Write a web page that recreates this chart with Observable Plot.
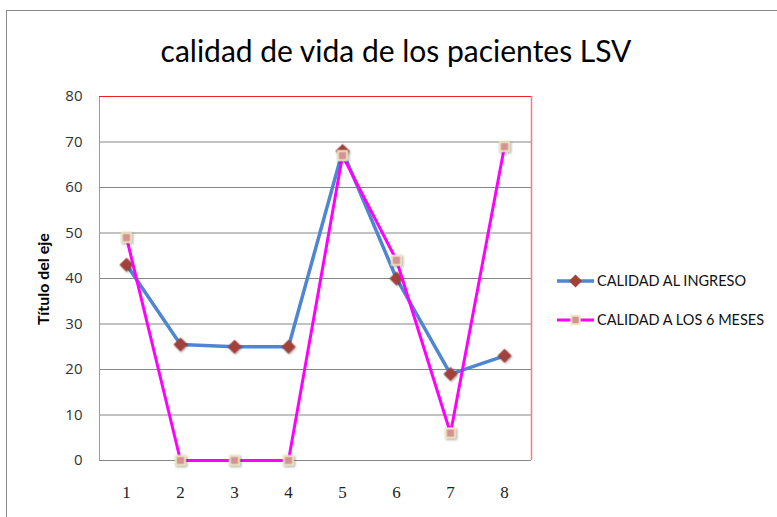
<!DOCTYPE html>
<html>
<head>
<meta charset="utf-8">
<script src="https://cdn.jsdelivr.net/npm/d3@7"></script>
<script src="https://cdn.jsdelivr.net/npm/@observablehq/plot@0.6"></script>
<style>
  html, body { margin: 0; padding: 0; background: #fff; }
  .shadow { filter: drop-shadow(1.5px 1.5px 1px rgba(0,0,0,0.35)); }
</style>
</head>
<body>
<div id="chart"></div>
<script>
const titleText = "calidad de vida de los pacientes LSV";
const yAxisTitle = "Título del eje";
const categories = [1, 2, 3, 4, 5, 6, 7, 8];
const seriesNames = ["CALIDAD AL INGRESO", "CALIDAD A LOS 6 MESES"];
const ingreso = [43, 25.5, 25, 25, 68, 40, 19, 23];
const seisMeses = [49, 0, 0, 0, 67, 44, 6, 69];
const yTicks = [0, 10, 20, 30, 40, 50, 60, 70, 80];

const blue = "#4F86D2", diamondFill = "#A2403C";
const magenta = "#FF00FF", squareFill = "#D49392", squareStroke = "#EEE9C2";

const d1 = categories.map((c, i) => ({x: c, y: ingreso[i]}));
const d2 = categories.map((c, i) => ({x: c, y: seisMeses[i]}));

const W = 777, H = 517;
const plot = Plot.plot({
  width: W, height: H,
  marginLeft: 99, marginRight: 246, marginTop: 96, marginBottom: 57,
  x: {domain: [0.5, 8.5], label: null},
  y: {domain: [0, 80], label: null},
  style: {background: "transparent"},
  marks: [
    Plot.ruleY(yTicks.filter(v => v > 0 && v < 80), {stroke: "#868686", strokeWidth: 1, strokeOpacity: 1}),
    Plot.ruleY([0], {stroke: "#868686", strokeWidth: 1}),
    Plot.ruleX([0.5], {stroke: "#9a9a9a", strokeWidth: 1}),
    Plot.ruleY([80], {stroke: "#E8222A", strokeWidth: 1}),
    Plot.ruleX([8.5], {stroke: "#F07E7E", strokeWidth: 1.5}),
    Plot.axisY(yTicks, {tickSize: 0, tickPadding: 17, fontSize: 15, fontFamily: "Open Sans", fill: "#333", label: null}),
    Plot.axisX(categories, {tickSize: 0, tickPadding: 25, fontSize: 17, fontFamily: "Liberation Serif", fill: "#222", label: null}),
    Plot.line(d1, {x: "x", y: "y", stroke: blue, strokeWidth: 3.5}),
    Plot.dot(d1, {x: "x", y: "y", symbol: "diamond2", r: 6.3, fill: diamondFill, stroke: "none", className: "shadow"}),
    Plot.line(d2, {x: "x", y: "y", stroke: magenta, strokeWidth: 3}),
    Plot.dot(d2, {x: "x", y: "y", symbol: "square", r: 5.2, fill: squareFill, stroke: squareStroke, strokeWidth: 2, className: "shadow"})
  ]
});

const svg = d3.select(plot);
// outer chart border
svg.insert("rect", ":first-child")
  .attr("x", 6.5).attr("y", 10.5).attr("width", 900).attr("height", 700)
  .attr("fill", "#fff").attr("stroke", "#8a8a8a").attr("stroke-width", 1);

// title
svg.append("text")
  .attr("x", 396).attr("y", 62)
  .attr("text-anchor", "middle")
  .attr("font-family", "Lato, 'Open Sans', sans-serif")
  .attr("font-size", 30)
  .attr("fill", "#000")
  .text(titleText);

// y axis title
svg.append("text")
  .attr("transform", "translate(49,279) rotate(-90)")
  .attr("text-anchor", "middle")
  .attr("font-family", "Lato, 'Open Sans', sans-serif")
  .attr("font-weight", "bold")
  .attr("font-size", 16)
  .attr("fill", "#000")
  .text(yAxisTitle);

// legend
const legendRows = [
  {name: seriesNames[0], line: blue, lw: 3.5, sym: d3.symbolDiamond2, size: 110, fill: diamondFill, stroke: "none", sw: 0, y: 281},
  {name: seriesNames[1], line: magenta, lw: 3, sym: d3.symbolSquare, size: 70, fill: squareFill, stroke: squareStroke, sw: 2, y: 320}
];
const lg = svg.append("g");
legendRows.forEach(r => {
  lg.append("line").attr("x1", 557).attr("x2", 594).attr("y1", r.y).attr("y2", r.y)
    .attr("stroke", r.line).attr("stroke-width", r.lw);
  lg.append("path").attr("d", d3.symbol(r.sym, r.size)())
    .attr("transform", `translate(575.5,${r.y})`)
    .attr("fill", r.fill).attr("stroke", r.stroke).attr("stroke-width", r.sw);
  lg.append("text").attr("x", 597).attr("y", r.y + 5)
    .attr("text-anchor", "start")
    .attr("font-family", "Lato, 'Open Sans', sans-serif")
    .attr("font-size", 14.5).attr("fill", "#111")
    .text(r.name);
});

document.getElementById("chart").appendChild(plot);
</script>
</body>
</html>
